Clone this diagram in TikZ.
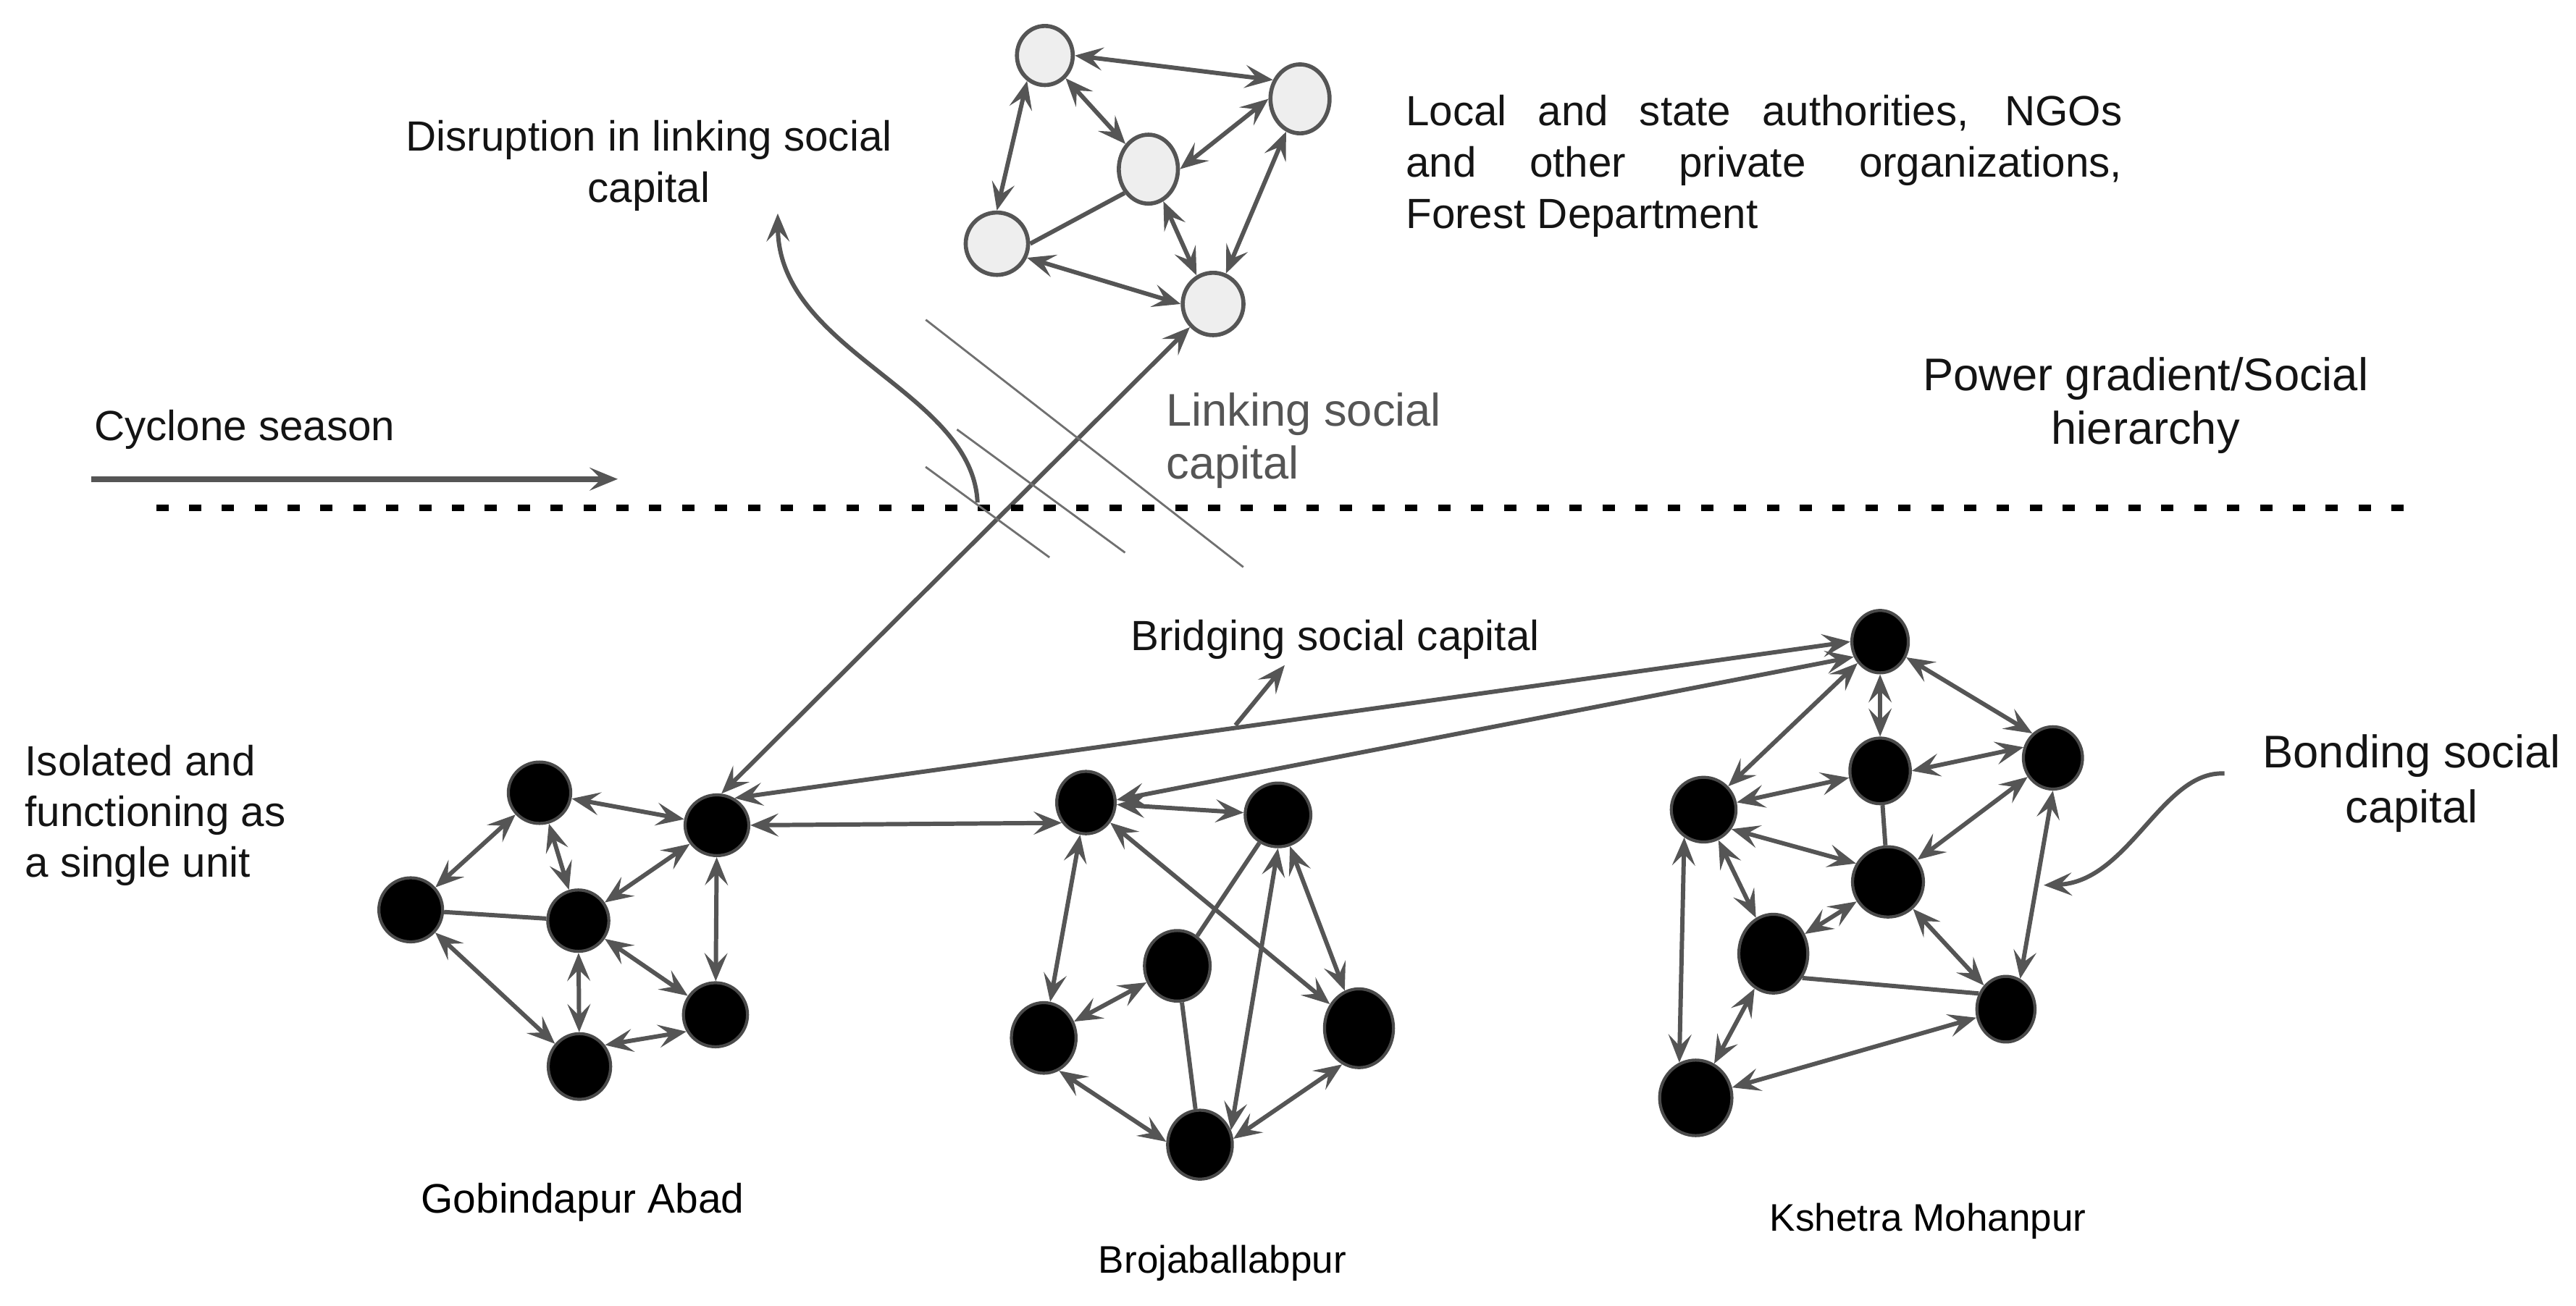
\documentclass[tikz,border=0pt]{standalone}
\usepackage{fontspec}
\setmainfont{Liberation Sans}
\usetikzlibrary{shapes.geometric,arrows.meta}
\definecolor{edgec}{HTML}{555555}
\definecolor{rimc}{HTML}{4A4A4A}
\definecolor{gfill}{HTML}{EEEEEE}
\definecolor{txtc}{HTML}{141414}
\definecolor{lnkc}{HTML}{555555}
\definecolor{hatchc}{HTML}{707070}
\begin{document}
\begin{tikzpicture}[x=0.022685cm,y=-0.022685cm,
  >={Stealth[length=11pt,width=9pt,inset=4.5pt]},
  edge/.style={draw=edgec, line width=1.7pt},
  biedge/.style={edge,<->},
  gnode/.style 2 args={ellipse, draw=edgec, fill=gfill, line width=1.6pt, inner sep=0pt,
    minimum width=#1*0.04537cm, minimum height=#2*0.04537cm},
  bnode/.style 2 args={ellipse, draw=rimc, fill=black, line width=1.2pt, inner sep=0pt,
    minimum width=#1*0.04537cm, minimum height=#2*0.04537cm},
  txt/.style={text=txtc, inner sep=0pt, font=\fontsize{16.6}{20}\selectfont},
  bigtxt/.style={text=txtc, inner sep=0pt, font=\fontsize{18}{22}\selectfont},
  smalltxt/.style={text=txtc, inner sep=0pt, font=\fontsize{15.1}{18}\selectfont},
  hatch/.style={draw=hatchc, line width=0.8pt},
  dashline/.style={draw=black, line width=2.6pt, dash pattern=on 0.17cm off 0.284cm},
  cyc/.style={draw=edgec, line width=2.2pt, ->}
]
\useasboundingbox (0,0) rectangle (1568,795.2);

% ---------- top network (authorities) ----------
\node[gnode={17}{18}]     (T1) at (636,33.8) {};
\node[gnode={18}{21}]     (T2) at (791.3,60.2) {};
\node[gnode={18}{21}]     (T3) at (699,103) {};
\node[gnode={19}{19}]     (T4) at (606.8,148.4) {};
\node[gnode={18.5}{19}]   (T5) at (738.4,185.1) {};

% ---------- Gobindapur Abad ----------
\node[bnode={19}{18.7}]   (Ga) at (328.4,482.7) {};
\node[bnode={19.4}{18.5}] (G1) at (436.4,502.5) {};
\node[bnode={19.4}{19.5}] (Gl) at (250,554) {};
\node[bnode={18.6}{18.7}] (Gc) at (352,560.6) {};
\node[bnode={19.5}{19.5}] (Gr) at (435.5,617.9) {};
\node[bnode={19}{20}]     (Gb) at (352.7,649.4) {};

% ---------- Brojaballabpur ----------
\node[bnode={17.8}{19}]   (B1) at (661,488.7) {};
\node[bnode={20}{19.4}]   (B2) at (777.9,496.2) {};
\node[bnode={20}{21.5}]   (B3) at (716.6,588.1) {};
\node[bnode={19.7}{21.5}] (B4) at (635.3,632) {};
\node[bnode={21}{24}]     (B5) at (827.2,626.1) {};
\node[bnode={19.7}{21}]   (B6) at (730.4,697) {};

% ---------- Kshetra Mohanpur ----------
\node[bnode={17.2}{19}]   (K1) at (1144.4,390.7) {};
\node[bnode={18.4}{20}]   (K2) at (1144.4,469.4) {};
\node[bnode={18}{19}]     (K3) at (1249.6,461.5) {};
\node[bnode={19.7}{19.7}] (K4) at (1037,493) {};
\node[bnode={21.6}{21.4}] (K5) at (1149.2,537) {};
\node[bnode={21}{24}]     (K6) at (1079.4,580.7) {};
\node[bnode={17.7}{20}]   (K7) at (1221,614.5) {};
\node[bnode={22}{23}]     (K8) at (1032.2,668.5) {};

% ---------- edges: top ----------
\draw[biedge] (T1.east) -- (T2.145);
\draw[biedge] (T1.235) -- (T4.north);
\draw[biedge] (T1) -- (T3);
\draw[biedge] (T3.east) -- (T2.west);
\draw[edge]   (T4.east) -- (T3.225);
\draw[biedge] (T4.335) -- (T5.180);
\draw[biedge] (T3.295) -- (T5.120);
\draw[biedge] (T2) -- (T5);

% linking
\draw[biedge] (G1.82) -- (T5.225);

% ---------- edges: Gobindapur ----------
\draw[biedge] (Ga) -- (Gl);
\draw[biedge] (Ga) -- (G1);
\draw[biedge] (Ga) -- (Gc);
\draw[edge]   (Gl) -- (Gc);
\draw[biedge] (Gl) -- (Gb);
\draw[biedge] (Gc) -- (Gb);
\draw[biedge] (Gc) -- (Gr);
\draw[biedge] (G1) -- (Gc);
\draw[biedge] (G1) -- (Gr);
\draw[biedge] (Gb.40) -- (Gr.210);

% ---------- bridging ----------
\draw[biedge] (G1.east) -- (B1.220);
\draw[biedge] (G1.57) -- (K1.west);
\draw[biedge] (B1.5) -- (K1.210);

% ---------- edges: Brojaballabpur ----------
\draw[biedge] (B1) -- (B2);
\draw[biedge] (B1) -- (B4);
\draw[biedge] (B1) -- (B5);
\draw[edge]   (B2) -- (B3);
\draw[biedge] (B2.south) -- (B6.25);
\draw[biedge] (B2) -- (B5);
\draw[biedge] (B3) -- (B4);
\draw[edge]   (B3) -- (B6);
\draw[biedge] (B4.295) -- (B6.175);
\draw[biedge] (B5.245) -- (B6.10);

% ---------- edges: Kshetra ----------
\draw[biedge] (K1) -- (K4);
\draw[biedge] (K1) -- (K2);
\draw[biedge] (K1) -- (K3.130);
\draw[biedge] (K2) -- (K4);
\draw[biedge] (K2.east) -- (K3.160);
\draw[edge]   (K2) -- (K5);
\draw[biedge] (K4.325) -- (K5.150);
\draw[biedge] (K3) -- (K5);
\draw[biedge] (K4) -- (K6);
\draw[biedge] (K4.235) -- (K8.115);
\draw[biedge] (K5) -- (K6);
\draw[biedge] (K5) -- (K7);
\draw[biedge] (K3.south) -- (K7.65);
\draw[edge]   (K6.320) -- (K7.150);
\draw[biedge] (K6) -- (K8);
\draw[biedge] (K8) -- (K7);

% ---------- free lines ----------
\coordinate (dA) at (95,309.3);
\coordinate (dB) at (1475,309.3);
\draw[dashline] (dA) -- (dB);

\coordinate (cyA) at (55.6,291.7);
\coordinate (cyB) at (376,291.7);
\draw[cyc] (cyA) -- (cyB);

\coordinate (dsA) at (595,306);
\coordinate (dsB) at (473.4,130);
\draw[edge,->] (dsA) .. controls (592,238) and (474,214) .. (dsB);

\coordinate (h1a) at (563.5,194.7); \coordinate (h1b) at (756.8,345.3);
\coordinate (h2a) at (582.5,261.5); \coordinate (h2b) at (684.8,336.5);
\coordinate (h3a) at (563.4,284.3); \coordinate (h3b) at (638.8,339.4);
\draw[hatch] (h1a) -- (h1b);
\draw[hatch] (h2a) -- (h2b);
\draw[hatch] (h3a) -- (h3b);

\coordinate (brA) at (752,441.6);
\coordinate (brB) at (782,405);
\draw[edge,->] (brA) -- (brB);

\coordinate (bdA) at (1354,471);
\coordinate (bdB) at (1244,539);
\draw[edge,->] (bdA) .. controls (1316,469) and (1296,537) .. (bdB);

% ---------- texts ----------
\node[txt, anchor=base] (dis1) at (395,91.8) {Disruption in linking social};
\node[txt, anchor=base] (dis2) at (395,123.4) {capital};

\node[txt, anchor=base west] (au1) at (855.5,76.6) {\makebox[9.891cm][s]{Local and state authorities, NGOs}};
\node[txt, anchor=base west] (au2) at (855.5,107.8) {\makebox[9.891cm][s]{and other private organizations,}};
\node[txt, anchor=base west] (au3) at (855.5,139) {Forest Department};

\node[txt, anchor=base west] (cyc) at (57.2,268.2) {Cyclone season};

\node[bigtxt, text=lnkc, anchor=base west] (lk1) at (709.6,259.4) {Linking social};
\node[bigtxt, text=lnkc, anchor=base west] (lk2) at (709.6,291.7) {capital};

\node[bigtxt, anchor=base] (pw1) at (1306,237.8) {Power gradient/Social};
\node[bigtxt, anchor=base] (pw2) at (1306,270.6) {hierarchy};

\node[txt, anchor=base west] (brg) at (688,396) {Bridging social capital};

\node[txt, anchor=base west] (iso1) at (15,472.4) {Isolated and};
\node[txt, anchor=base west] (iso2) at (15,503.3) {functioning as};
\node[txt, anchor=base west] (iso3) at (15,534.1) {a single unit};

\node[bigtxt, anchor=base] (bd1) at (1468,467.3) {Bonding social};
\node[bigtxt, anchor=base] (bd2) at (1468,501) {capital};

\node[txt, font=\fontsize{16.2}{20}\selectfont, text=black, anchor=base west] (lgob) at (256,738.4) {Gobindapur Abad};
\node[smalltxt, text=black, anchor=base west] (lbro) at (668.4,775) {Brojaballabpur};
\node[smalltxt, text=black, anchor=base west] (lksh) at (1077,749.4) {Kshetra Mohanpur};
\end{tikzpicture}
\end{document}
